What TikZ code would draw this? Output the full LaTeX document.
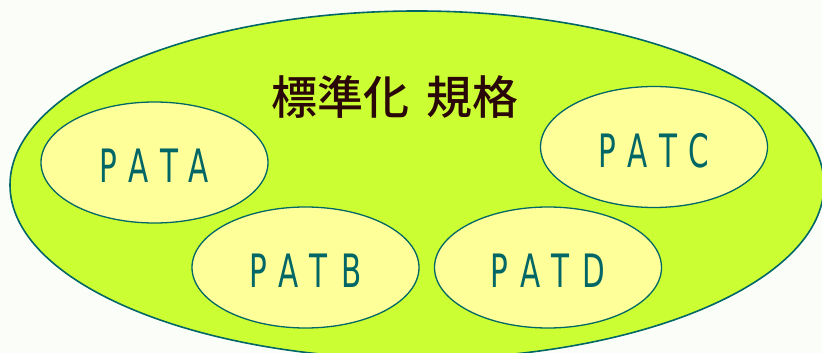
\documentclass[tikz,border=0pt]{standalone}
\usepackage{fontspec}
\usepackage{graphicx}
\usetikzlibrary{shapes.geometric}
\newfontfamily\cjkfont{Noto Sans CJK JP Medium}
\newfontfamily\patfont[LetterSpace=45]{DejaVu Sans}
\definecolor{bgc}{HTML}{FBFEF8}
\definecolor{outerfill}{HTML}{CCFF33}
\definecolor{innerfill}{HTML}{FFFF99}
\definecolor{teal}{HTML}{006666}
\definecolor{titlec}{HTML}{2A0808}
\tikzset{
  outerell/.style={ellipse, draw=teal, line width=1.6pt, fill=outerfill,
    minimum width=814pt, minimum height=348pt, inner sep=0pt},
  patell/.style={ellipse, draw=teal, line width=1.3pt, fill=innerfill,
    minimum width=227pt, minimum height=121pt, inner sep=0pt,
    text=teal, text height=41pt, text depth=0pt,
    font=\fontsize{46}{54}\selectfont\patfont},
  titletext/.style={text=titlec, inner sep=0pt,
    font=\fontsize{46}{54}\selectfont\cjkfont}
}
\newcommand{\pat}[1]{\scalebox{0.64}[1]{#1}}
\begin{document}
\begin{tikzpicture}[x=1pt,y=1pt]
\fill[bgc] (0,0) rectangle (822,353);
\useasboundingbox (0,0) rectangle (822,353);
\node[outerell] (outer) at (417,168) {};
\node[titletext] (title) at (395,256) {標準化\hspace{0.35em}規格};
\node[patell] (pata) at (154.5,190.5) {\pat{PATA}};
\node[patell] (patb) at (305.5,85.5) {\pat{PATB}};
\node[patell] (patd) at (548,85.5) {\pat{PATD}};
\node[patell] (patc) at (654,206) {\pat{PATC}};
\end{tikzpicture}
\end{document}
